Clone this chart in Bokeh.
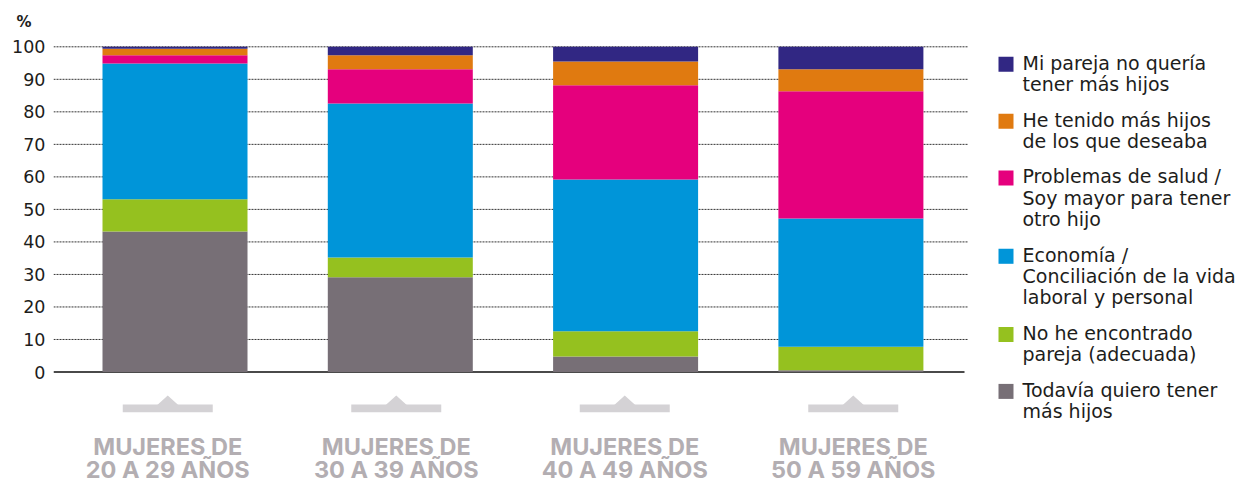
from bokeh.plotting import figure
from bokeh.models import Range1d, FixedTicker, ColumnDataSource
from bokeh.embed import file_html
from bokeh.resources import INLINE
from bokeh.core.properties import value

# ---------------- data ----------------
categories = ["MUJERES DE\n20 A 29 AÑOS", "MUJERES DE\n30 A 39 AÑOS",
              "MUJERES DE\n40 A 49 AÑOS", "MUJERES DE\n50 A 59 AÑOS"]

# stacked bottom -> top
todavia = [43.2, 29.1, 4.8, 0.5]
no_pareja = [9.9, 6.1, 7.7, 7.3]
economia = [41.8, 47.4, 46.7, 39.4]
salud = [2.5, 10.5, 29.0, 39.1]
he_tenido = [2.0, 4.3, 7.3, 6.8]
mi_pareja = [0.6, 2.6, 4.5, 6.9]

series_keys = ["todavia", "no_pareja", "economia", "salud", "he_tenido", "mi_pareja"]
series_labels = [
    "Todavía quiero tener\nmás hijos",
    "No he encontrado\npareja (adecuada)",
    "Economía /\nConciliación de la vida\nlaboral y personal",
    "Problemas de salud /\nSoy mayor para tener\notro hijo",
    "He tenido más hijos\nde los que deseaba",
    "Mi pareja no quería\ntener más hijos",
]
colors = ["#776f76", "#95c11f", "#0095d9", "#e5007d", "#e07a10", "#312783"]
y_ticks = [0, 10, 20, 30, 40, 50, 60, 70, 80, 90, 100]
unit_label = "%"

# ---------------- layout (pixel helpers) ----------------
W, H = 1239, 478
LEFT, TOP = 53, 32
XS = 225.3          # px per x unit
YS = 3.252          # px per y unit
XC0 = 174.5         # px of first bar centre
YZ = 371.5          # px of y = 0


def dx(px):
    return (px - XC0) / XS


def dy(py):
    return (YZ - py) / YS


X0, X1 = dx(LEFT), dx(W)
Y0, Y1 = dy(H), dy(TOP)

FONT = "DejaVu Sans"
TXT = "#1d1d1b"
BASE_FIX = 0.36     # text baseline correction (fraction of font size)

p = figure(width=W, height=H, x_range=Range1d(X0, X1), y_range=Range1d(Y0, Y1),
           x_axis_location=None, y_axis_location="left",
           output_backend="svg", toolbar_location=None,
           min_border_left=LEFT, min_border_right=0, min_border_top=TOP, min_border_bottom=0)
p.outline_line_color = None
p.grid.visible = False
p.background_fill_color = "white"
p.border_fill_color = "white"

p.title.text = unit_label
p.title.align = "left"
p.title.offset = 16 - LEFT
p.title.standoff = 3
p.title.text_font = FONT
p.title.text_font_style = "bold"
p.title.text_font_size = "15px"
p.title.text_color = TXT

ax = p.yaxis[0]
ax.ticker = FixedTicker(ticks=y_ticks)
ax.axis_line_color = None
ax.major_tick_line_color = None
ax.minor_tick_line_color = None
ax.major_tick_out = 0
ax.major_tick_in = 0
ax.major_label_standoff = 8
ax.major_label_text_font = FONT
ax.major_label_text_font_size = "17.5px"
ax.major_label_text_color = TXT

# gridlines (plot area from x=53 to x=967)
gx0, gx1 = dx(53), dx(967)
grid_ticks = [t for t in y_ticks if t > 0]
p.segment(x0=[gx0] * len(grid_ticks), x1=[gx1] * len(grid_ticks), y0=grid_ticks, y1=grid_ticks,
          line_color="#333333", line_width=1, line_dash="2 1")
p.segment(x0=[gx0], x1=[dx(964)], y0=[y_ticks[0]], y1=[y_ticks[0]],
          line_color="#4a4a4a", line_width=2)

# bars
src = ColumnDataSource(dict(x=list(range(len(categories))), todavia=todavia, no_pareja=no_pareja,
                            economia=economia, salud=salud, he_tenido=he_tenido, mi_pareja=mi_pareja))
p.vbar_stack(series_keys, x="x", width=145 / XS, fill_color=colors, line_color=None, source=src)

# category labels with marker
n = len(categories)
step = (gx1 - gx0) / n
lab_x = [gx0 + (i + 0.5) * step for i in range(n)]
mark_color = "#d4d2d5"
p.rect(x=lab_x, y=[dy(407.85)] * n, width=90 / XS, height=7.7 / YS,
       fill_color=mark_color, line_color=None)
p.patches(xs=[[cx - 10.5 / XS, cx, cx + 10.5 / XS] for cx in lab_x],
          ys=[[dy(404.5), dy(395), dy(404.5)] for _ in lab_x],
          fill_color=mark_color, line_color=None)
line1 = [c.split("\n")[0] for c in categories]
line2 = [c.split("\n")[1] for c in categories]
CAT_FS = 23.5
for lines, base in ((line1, 454), (line2, 477)):
    p.text(x=lab_x, y=[dy(base - BASE_FIX * CAT_FS)] * n, text=lines, text_align="center",
           text_baseline="alphabetic", text_font=value("Inter"), text_font_style="bold",
           text_font_size=f"{CAT_FS}px", text_color="#b3aeb2")

# legend (drawn manually, top -> bottom)
L, G, CAP = 21.3, 14.3, 12.7
LEG_FS = 19
t = 56.3
for key_i in reversed(range(len(series_keys))):
    lab = series_labels[key_i].split("\n")
    p.quad(left=[dx(998)], right=[dx(1013)], top=[dy(t)], bottom=[dy(t + 15)],
           fill_color=colors[key_i], line_color=None)
    p.text(x=[dx(1022)] * len(lab),
           y=[dy(t + CAP + k * L - BASE_FIX * LEG_FS) for k in range(len(lab))], text=lab,
           text_align="left", text_baseline="alphabetic", text_font=value(FONT),
           text_font_size=f"{LEG_FS}px", text_color=TXT)
    t += len(lab) * L + G

open("out.html", "w").write(file_html(p, INLINE))
